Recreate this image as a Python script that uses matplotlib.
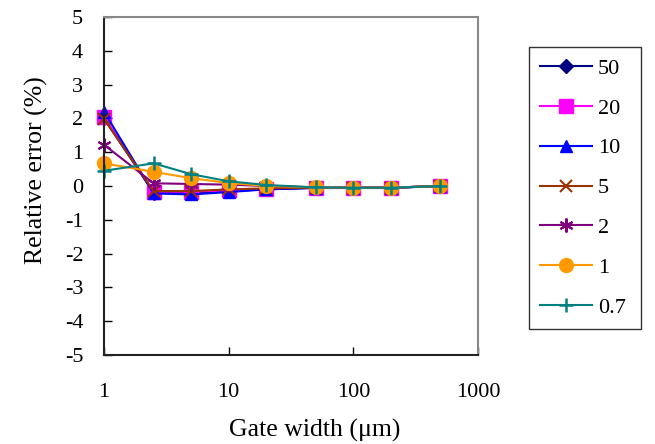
import matplotlib
matplotlib.use("Agg")
import matplotlib.pyplot as plt
from matplotlib.ticker import FixedLocator, FixedFormatter, NullLocator

plt.rcParams['font.family'] = ['Liberation Serif', 'DejaVu Serif']

# Gate widths (um) and relative error (%) per series
gate_width = [1, 2.5, 5, 10, 20, 50, 100, 200, 500]
series_labels = ["50", "20", "10", "5", "2", "1", "0.7"]
err_50 = [2.0, -0.2, -0.2, -0.15, -0.1, -0.05, -0.05, -0.05, 0.0]
err_20 = [2.05, -0.17, -0.17, -0.13, -0.08, -0.05, -0.05, -0.05, 0.0]
err_10 = [2.2, -0.22, -0.25, -0.18, -0.1, -0.06, -0.06, -0.06, 0.0]
err_5 = [1.98, -0.15, -0.15, -0.1, -0.07, -0.05, -0.05, -0.05, 0.0]
err_2 = [1.22, 0.08, 0.06, 0.04, 0.0, -0.04, -0.05, -0.05, 0.0]
err_1 = [0.67, 0.42, 0.23, 0.09, 0.0, -0.04, -0.05, -0.05, 0.0]
err_07 = [0.45, 0.67, 0.35, 0.14, 0.03, -0.04, -0.05, -0.05, 0.0]
x_ticks = [1, 10, 100, 1000]
x_tick_labels = ["1", "10", "100", "1000"]
y_ticks = [-5, -4, -3, -2, -1, 0, 1, 2, 3, 4, 5]

all_series = [err_50, err_20, err_10, err_5, err_2, err_1, err_07]
styles = [
    dict(color="#000080", marker="D", ms=7),
    dict(color="#FF00FF", marker="s", ms=10),
    dict(color="#0000FF", marker="^", ms=9),
    dict(color="#993300", marker="x", ms=9, mew=1.5),
    dict(color="#800080", marker=(6, 2, 0), ms=10, mew=1.5),
    dict(color="#FF9900", marker="o", ms=10),
    dict(color="#008080", marker="+", ms=10, mew=1.8),
]

fig = plt.figure(figsize=(6.55, 4.44), dpi=100)
ax = fig.add_axes([104 / 655, 1 - 355 / 444, (478 - 104) / 655, (355 - 17) / 444])

for vals, lab, st in zip(all_series, series_labels, styles):
    ax.plot(gate_width, vals, lw=1.5, label=lab, clip_on=False, **st)

ax.set_xscale("log")
ax.set_xlim(1, 1000)
ax.set_ylim(-5, 5)
ax.xaxis.set_major_locator(FixedLocator(x_ticks))
ax.xaxis.set_major_formatter(FixedFormatter(x_tick_labels))
ax.xaxis.set_minor_locator(NullLocator())
ax.set_yticks(y_ticks)
ax.set_yticklabels([str(v) for v in y_ticks])

ax.tick_params(axis="both", direction="in", length=6, width=1, labelsize=16,
               colors="black")
ax.tick_params(axis="x", pad=20)
ax.tick_params(axis="y", pad=15)

for side in ("left", "bottom"):
    ax.spines[side].set_color("#222222")
    ax.spines[side].set_linewidth(1.5)
for side in ("top", "right"):
    ax.spines[side].set_color("#888888")
    ax.spines[side].set_linewidth(1.5)

ax.set_xlabel("Gate width (μm)", fontsize=18.5, labelpad=12)
ax.set_ylabel("Relative error (%)", fontsize=18.5, labelpad=12)
ax.xaxis.label.set_x(0.564)
ax.yaxis.label.set_y(0.547)

leg = fig.legend(loc="upper left", bbox_to_anchor=(529 / 655, 1 - 47 / 444, 112 / 655, 0),
                 mode="expand", fontsize=16, frameon=True, fancybox=False,
                 edgecolor="black", labelspacing=0.87, handlelength=2.35,
                 handletextpad=0.25, borderaxespad=0, borderpad=0.5)
leg.get_frame().set_linewidth(1.0)

fig.savefig("out.png", dpi=100)
